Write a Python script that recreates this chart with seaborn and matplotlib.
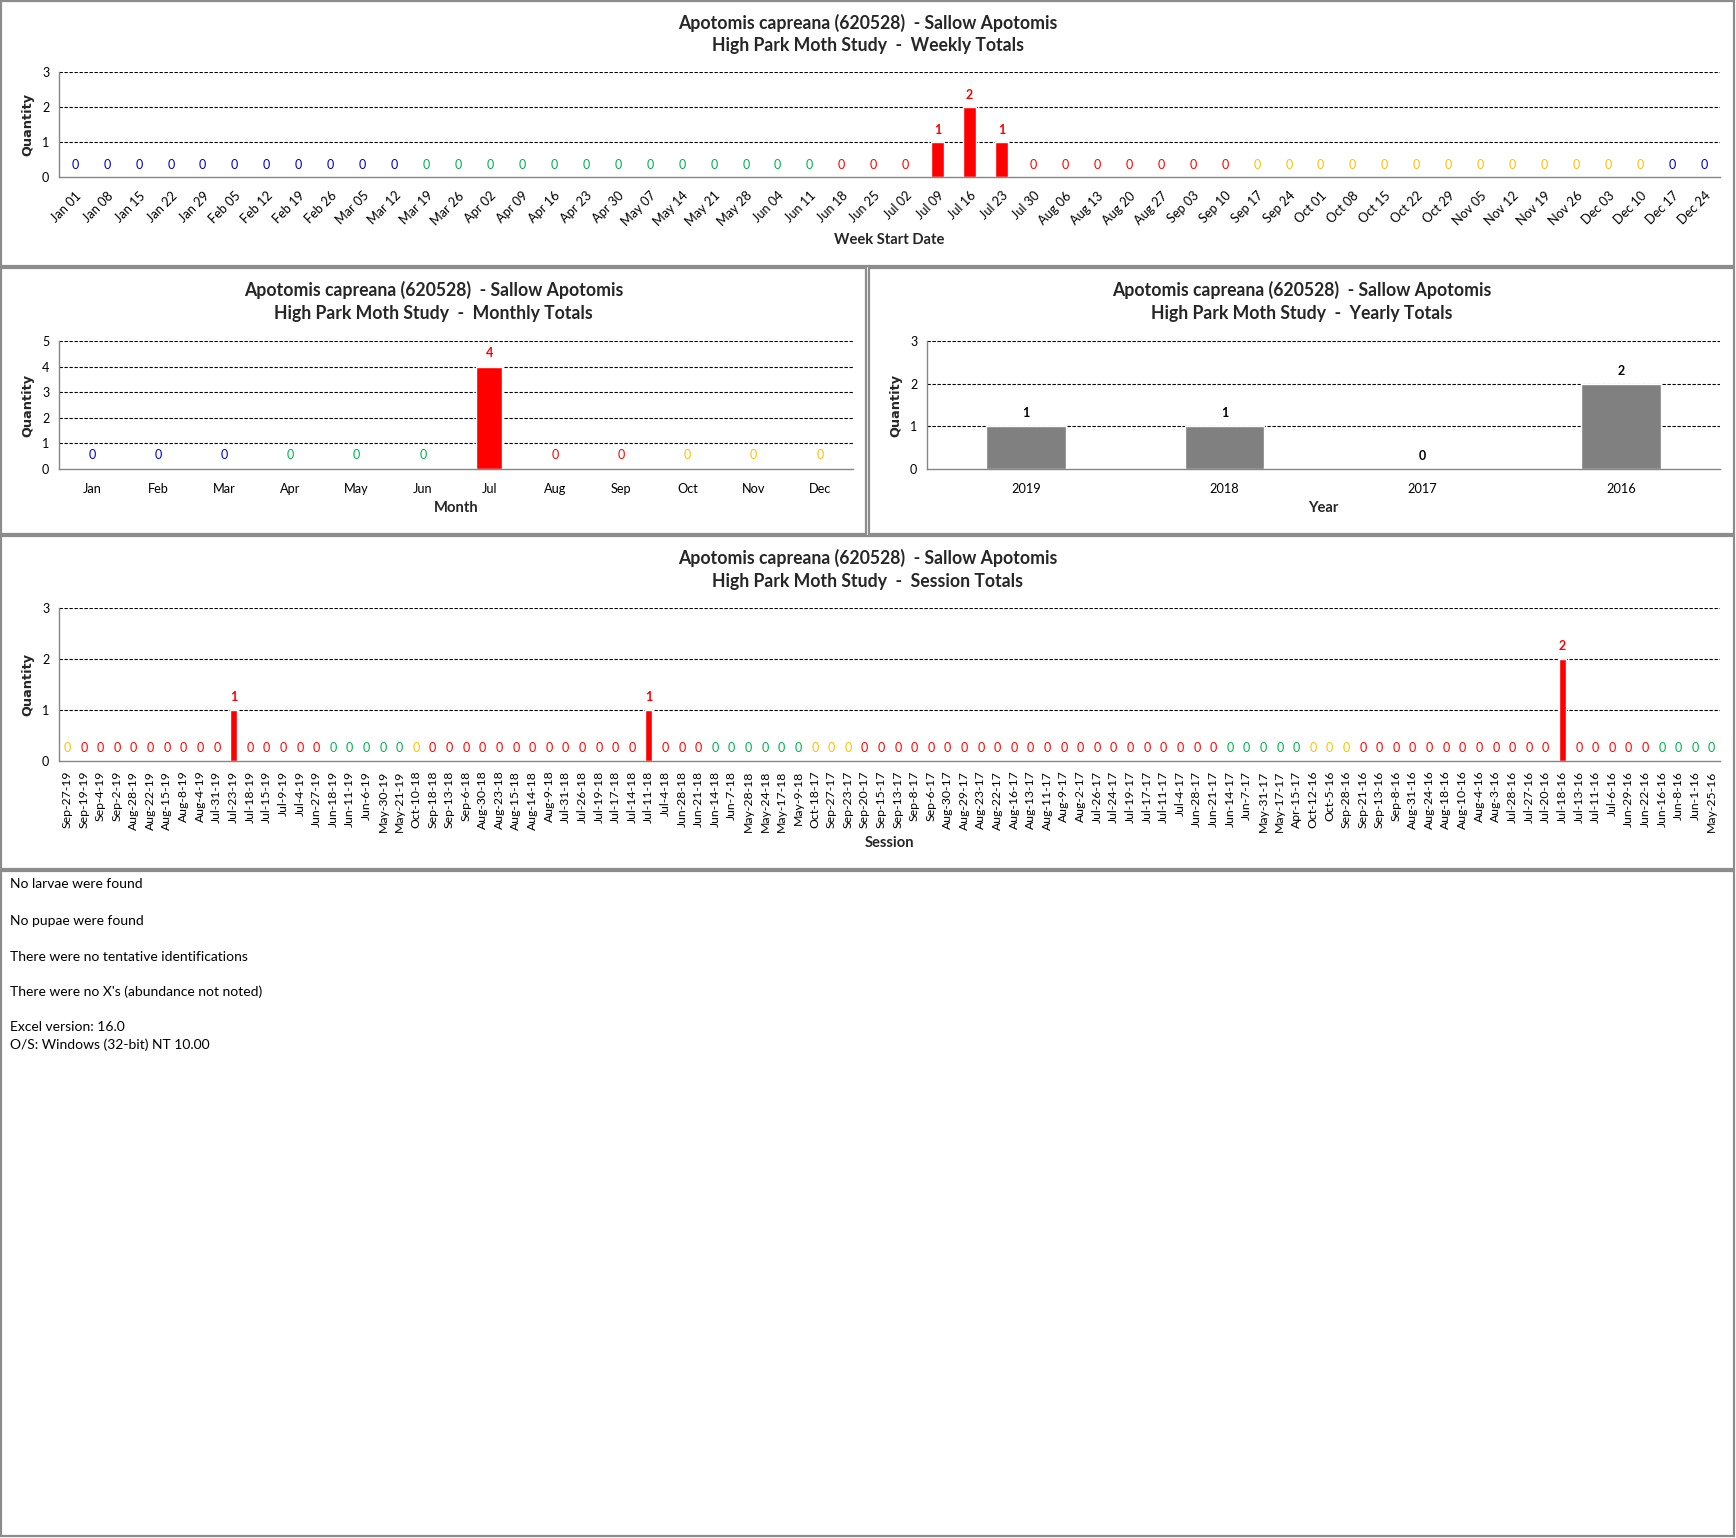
import matplotlib
matplotlib.use('Agg')
import numpy as np
import pandas as pd
import matplotlib.pyplot as plt
import seaborn as sns
from matplotlib.patches import Rectangle
from datetime import datetime, timedelta

# ---------------- data ----------------
species_title = "Apotomis capreana (620528)  - Sallow Apotomis"
study_title = "High Park Moth Study"

week_labels = ["Jan 01", "Jan 08", "Jan 15", "Jan 22", "Jan 29", "Feb 05", "Feb 12", "Feb 19",
               "Feb 26", "Mar 05", "Mar 12", "Mar 19", "Mar 26", "Apr 02", "Apr 09", "Apr 16",
               "Apr 23", "Apr 30", "May 07", "May 14", "May 21", "May 28", "Jun 04", "Jun 11",
               "Jun 18", "Jun 25", "Jul 02", "Jul 09", "Jul 16", "Jul 23", "Jul 30", "Aug 06",
               "Aug 13", "Aug 20", "Aug 27", "Sep 03", "Sep 10", "Sep 17", "Sep 24", "Oct 01",
               "Oct 08", "Oct 15", "Oct 22", "Oct 29", "Nov 05", "Nov 12", "Nov 19", "Nov 26",
               "Dec 03", "Dec 10", "Dec 17", "Dec 24"]
week_values = [0, 0, 0, 0, 0, 0, 0, 0, 0, 0, 0, 0, 0, 0, 0, 0,
               0, 0, 0, 0, 0, 0, 0, 0, 0, 0, 0, 1, 2, 1, 0, 0,
               0, 0, 0, 0, 0, 0, 0, 0, 0, 0, 0, 0, 0, 0, 0, 0,
               0, 0, 0, 0]

month_labels = ["Jan", "Feb", "Mar", "Apr", "May", "Jun", "Jul", "Aug", "Sep", "Oct", "Nov", "Dec"]
month_values = [0, 0, 0, 0, 0, 0, 4, 0, 0, 0, 0, 0]

year_labels = ["2019", "2018", "2017", "2016"]
year_values = [1, 1, 0, 2]

session_labels = [
    "Sep-27-19", "Sep-19-19", "Sep-4-19", "Sep-2-19", "Aug-28-19", "Aug-22-19", "Aug-15-19",
    "Aug-8-19", "Aug-4-19", "Jul-31-19", "Jul-23-19", "Jul-18-19", "Jul-15-19", "Jul-9-19",
    "Jul-4-19", "Jun-27-19", "Jun-18-19", "Jun-11-19", "Jun-6-19", "May-30-19", "May-21-19",
    "Oct-10-18", "Sep-18-18", "Sep-13-18", "Sep-6-18", "Aug-30-18", "Aug-23-18", "Aug-15-18",
    "Aug-14-18", "Aug-9-18", "Jul-31-18", "Jul-26-18", "Jul-19-18", "Jul-17-18", "Jul-14-18",
    "Jul-11-18", "Jul-4-18", "Jun-28-18", "Jun-21-18", "Jun-14-18", "Jun-7-18", "May-28-18",
    "May-24-18", "May-17-18", "May-9-18",
    "Oct-18-17", "Sep-27-17", "Sep-23-17", "Sep-20-17", "Sep-15-17", "Sep-13-17", "Sep-8-17",
    "Sep-6-17", "Aug-30-17", "Aug-29-17", "Aug-23-17", "Aug-22-17", "Aug-16-17", "Aug-13-17",
    "Aug-11-17", "Aug-9-17", "Aug-2-17", "Jul-26-17", "Jul-24-17", "Jul-19-17", "Jul-17-17",
    "Jul-11-17", "Jul-4-17", "Jun-28-17", "Jun-21-17", "Jun-14-17", "Jun-7-17", "May-31-17",
    "May-17-17", "Apr-15-17",
    "Oct-12-16", "Oct-5-16", "Sep-28-16", "Sep-21-16", "Sep-13-16", "Sep-8-16", "Aug-31-16",
    "Aug-24-16", "Aug-18-16", "Aug-10-16", "Aug-4-16", "Aug-3-16", "Jul-28-16", "Jul-27-16",
    "Jul-20-16", "Jul-18-16", "Jul-13-16", "Jul-11-16", "Jul-6-16", "Jun-29-16", "Jun-22-16",
    "Jun-16-16", "Jun-8-16", "Jun-1-16", "May-25-16"]
session_values = [
    0, 0, 0, 0, 0, 0, 0, 0, 0, 0, 1, 0, 0, 0, 0, 0, 0, 0, 0, 0, 0,
    0, 0, 0, 0, 0, 0, 0, 0, 0, 0, 0, 0, 0, 0, 1, 0, 0, 0, 0, 0, 0, 0, 0, 0,
    0, 0, 0, 0, 0, 0, 0, 0, 0, 0, 0, 0, 0, 0, 0, 0, 0, 0, 0, 0, 0, 0, 0, 0, 0, 0, 0, 0, 0, 0,
    0, 0, 0, 0, 0, 0, 0, 0, 0, 0, 0, 0, 0, 0, 0, 2, 0, 0, 0, 0, 0, 0, 0, 0, 0]

notes = ["No larvae were found", "No pupae were found", "There were no tentative identifications",
         "There were no X's (abundance not noted)", "Excel version: 16.0",
         "O/S: Windows (32-bit) NT 10.00"]

# ---------------- style ----------------
W, H = 1736, 1538
sns.set_theme(style='white')
plt.rcParams['font.family'] = ['Lato', 'DejaVu Sans']

BLUE, GREEN, RED, YELLOW = '#0000CC', '#00B050', '#FF0000', '#FFC000'
AXIS_GRAY = '#868686'
BORDER_GRAY = '#8C8C8C'


def season_color(dt):
    md = dt.month * 100 + dt.day
    if md < 320 or md >= 1221:
        return BLUE
    if md < 621:
        return GREEN
    if md < 922:
        return RED
    return YELLOW


week_colors = [season_color(datetime.strptime(l + ' 2018', '%b %d %Y') + timedelta(days=6))
               for l in week_labels]
month_colors = [season_color(datetime.strptime(l + ' 15 2018', '%b %d %Y')) for l in month_labels]
session_colors = [season_color(datetime.strptime(l, '%b-%d-%y')) for l in session_labels]

fig = plt.figure(figsize=(W / 100, H / 100), dpi=100)


def px_axes(l, t, r, b):
    return fig.add_axes([l / W, 1 - b / H, (r - l) / W, (b - t) / H])


def border(l, t, r, b):
    fig.add_artist(Rectangle((l / W, 1 - b / H), (r - l) / W, (b - t) / H,
                             transform=fig.transFigure, fill=False,
                             edgecolor=BORDER_GRAY, lw=1.6))


def ftext(x, y, s, **kw):
    fig.text(x / W, 1 - y / H, s, **kw)


def panel(box, axbox, labels, values, ymax, bar_color, lab_colors, lab_weights,
          xlabel, subtitle, rot, lab_off, xlab_y, tick_pad, tick_fs):
    bl, bt, br, bb = box
    border(*box)
    l, t, r, b = axbox
    ax = px_axes(*axbox)
    df = pd.DataFrame({'label': labels, 'value': values})
    sns.barplot(data=df, x='label', y='value', order=labels, color=bar_color,
                saturation=1, width=0.4, errorbar=None, ax=ax, zorder=3)
    n = len(labels)
    ax.set_xlim(-0.5, n - 0.5)
    ax.set_ylim(0, ymax)
    for y in range(1, ymax + 1):
        ax.axhline(y, color='black', lw=0.8, ls=(0, (3, 1.5)), zorder=1)
    ax.set_yticks(range(ymax + 1))
    ax.set_yticklabels([str(v) for v in range(ymax + 1)], fontsize=9, color='black')
    ax.set_xticks(range(n))
    if rot == 45:
        ax.set_xticklabels(labels, rotation=45, ha='right', rotation_mode='anchor',
                           fontsize=tick_fs, color='black')
    elif rot == 90:
        ax.set_xticklabels(labels, rotation=90, ha='center', va='top',
                           fontsize=tick_fs, color='black')
    else:
        ax.set_xticklabels(labels, fontsize=tick_fs, color='black')
    ax.set_xticks(np.arange(-0.5, n, 1.0), minor=True)
    ax.tick_params(axis='x', which='major', length=0, pad=tick_pad)
    ax.tick_params(axis='x', which='minor', length=5, width=1, color=AXIS_GRAY, direction='out')
    ax.tick_params(axis='y', which='major', length=4, width=1, color=AXIS_GRAY,
                   direction='out', pad=3)
    for s in ['top', 'right']:
        ax.spines[s].set_visible(False)
    for s in ['left', 'bottom']:
        ax.spines[s].set_color(AXIS_GRAY)
        ax.spines[s].set_linewidth(1.0)
        ax.spines[s].set_zorder(4)
    ax.set_xlabel('')
    ax.set_ylabel('')
    for i, v in enumerate(values):
        ax.annotate(str(v), (i, v), xytext=(0, lab_off), textcoords='offset points',
                    ha='center', va='center', fontsize=9, color=lab_colors[i],
                    fontweight=lab_weights[i], zorder=5)
    cx = (bl + br) / 2
    ftext(cx, bt + 22, species_title, ha='center', va='center', fontsize=12.7, fontweight='bold')
    ftext(cx, bt + 45, study_title + "  -  " + subtitle, ha='center', va='center',
          fontsize=12.7, fontweight='bold')
    ftext(l - 31, (t + b) / 2, 'Quantity', rotation=90, ha='center', va='center',
          fontsize=9.3, fontweight='bold', family='DejaVu Sans')
    ftext((l + r) / 2, xlab_y, xlabel, ha='center', va='center', fontsize=10.6, fontweight='bold')
    return ax


def weights(vals):
    return ['bold' if v else 'normal' for v in vals]


panel((1, 1, 1734, 266), (59, 72, 1720, 177), week_labels, week_values, 3, RED,
      week_colors, weights(week_values), 'Week Start Date', 'Weekly Totals', 45, 8.6, 240, 9, 9.2)

panel((1, 268, 866, 534), (59, 341, 853, 469), month_labels, month_values, 5, RED,
      month_colors, weights(month_values), 'Month', 'Monthly Totals', 0, 10, 508, 10, 9.2)

panel((869, 268, 1734, 534), (927, 341, 1720, 469), year_labels, year_values, 3, '#808080',
      ['black'] * len(year_values), ['bold'] * len(year_values), 'Year', 'Yearly Totals',
      0, 9.4, 508, 10, 9.2)

panel((1, 536, 1734, 869), (59, 608, 1720, 761), session_labels, session_values, 3, RED,
      session_colors, weights(session_values), 'Session', 'Session Totals', 90, 9.4, 843, 7, 8.8)

# notes box
border(1, 871, 1734, 1536)
note_y = [884, 921, 957, 992, 1027, 1045]
for y, s in zip(note_y, notes):
    ftext(10, y, s, ha='left', va='center', fontsize=10, color='black')

fig.savefig('out.png', dpi=100, facecolor='white')
